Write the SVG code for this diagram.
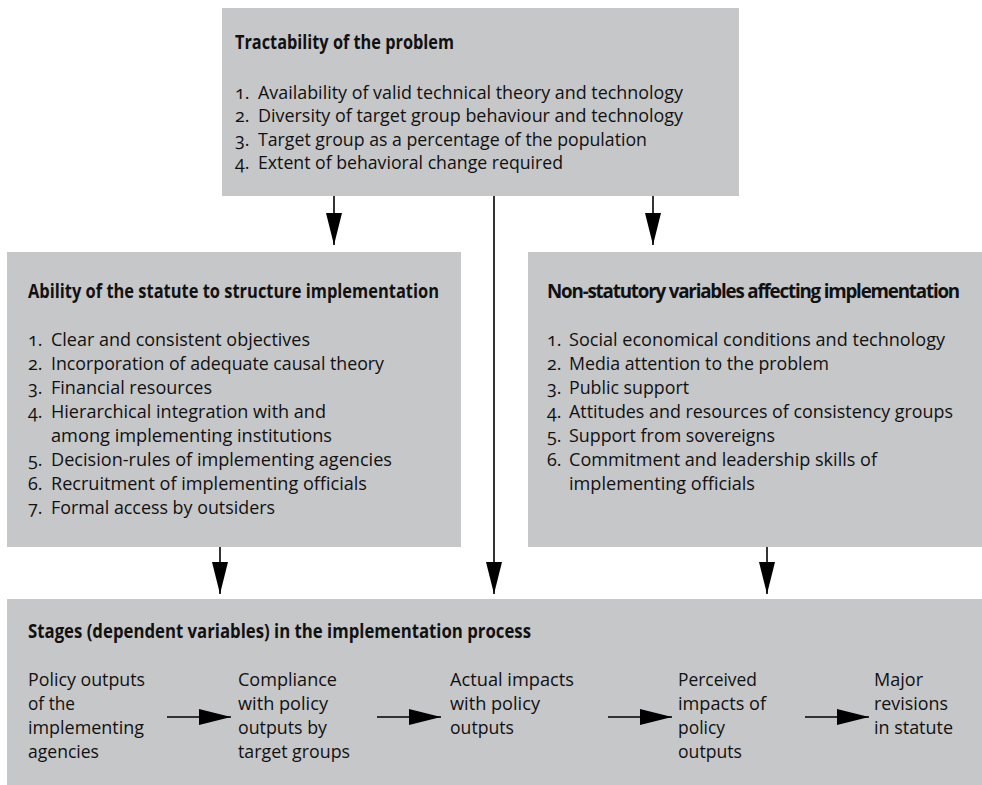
<svg xmlns="http://www.w3.org/2000/svg" width="982" height="785" viewBox="0 0 982 785">
  <style>
    .box { fill: #c6c7c9; }
    text { font-family: "Open Sans", "Noto Sans", "DejaVu Sans", sans-serif; font-size: 18px; fill: #111; font-variant-numeric: oldstyle-nums; }
    .title { font-weight: bold; font-size: 19px; }
    .tight { letter-spacing: -1.2px; }
    .conn { stroke: #000; stroke-width: 1.6; fill: none; }
  </style>
  <defs>
    <marker id="arrow" markerUnits="userSpaceOnUse" markerWidth="32" markerHeight="16" refX="32" refY="8" orient="auto">
      <path d="M0,0 L32,8 L0,16 Z" fill="#000"/>
    </marker>
  </defs>

  <!-- Tractability of the problem -->
  <g id="tractability">
    <rect class="box" x="222" y="8" width="517" height="188"/>
    <text class="title" x="235" y="49" textLength="219" lengthAdjust="spacingAndGlyphs">Tractability of the problem</text>
    <text x="235" y="98.5">1.</text>
    <text x="258" y="98.5" textLength="425" lengthAdjust="spacingAndGlyphs">Availability of valid technical theory and technology</text>
    <text x="235" y="122">2.</text>
    <text x="258" y="122" textLength="425" lengthAdjust="spacingAndGlyphs">Diversity of target group behaviour and technology</text>
    <text x="235" y="145.5">3.</text>
    <text x="258" y="145.5" textLength="389" lengthAdjust="spacingAndGlyphs">Target group as a percentage of the population</text>
    <text x="235" y="169">4.</text>
    <text x="258" y="169" textLength="305" lengthAdjust="spacingAndGlyphs">Extent of behavioral change required</text>
  </g>

  <!-- Ability of the statute to structure implementation -->
  <g id="statute">
    <rect class="box" x="7" y="252" width="454" height="295"/>
    <text class="title" x="28" y="298" textLength="411" lengthAdjust="spacingAndGlyphs">Ability of the statute to structure implementation</text>
    <text x="28" y="346">1.</text>
    <text x="51" y="346" textLength="259" lengthAdjust="spacingAndGlyphs">Clear and consistent objectives</text>
    <text x="28" y="370">2.</text>
    <text x="51" y="370" textLength="333" lengthAdjust="spacingAndGlyphs">Incorporation of adequate causal theory</text>
    <text x="28" y="394">3.</text>
    <text x="51" y="394" textLength="161" lengthAdjust="spacingAndGlyphs">Financial resources</text>
    <text x="28" y="418">4.</text>
    <text x="51" y="418" textLength="275" lengthAdjust="spacingAndGlyphs">Hierarchical integration with and</text>
    <text x="51" y="441.5" textLength="281" lengthAdjust="spacingAndGlyphs">among implementing institutions</text>
    <text x="28" y="465.5">5.</text>
    <text x="51" y="465.5" textLength="341" lengthAdjust="spacingAndGlyphs">Decision-rules of implementing agencies</text>
    <text x="28" y="489.5">6.</text>
    <text x="51" y="489.5" textLength="316" lengthAdjust="spacingAndGlyphs">Recruitment of implementing officials</text>
    <text x="28" y="513.5">7.</text>
    <text x="51" y="513.5" textLength="224" lengthAdjust="spacingAndGlyphs">Formal access by outsiders</text>
  </g>

  <!-- Non-statutory variables affecting implementation -->
  <g id="non-statutory">
    <rect class="box" x="528" y="252" width="454" height="295"/>
    <text class="title tight" x="547" y="298" textLength="412" lengthAdjust="spacingAndGlyphs">Non-statutory variables affecting implementation</text>
    <text x="547" y="346">1.</text>
    <text x="569" y="346" textLength="376" lengthAdjust="spacingAndGlyphs">Social economical conditions and technology</text>
    <text x="547" y="370">2.</text>
    <text x="569" y="370" textLength="260" lengthAdjust="spacingAndGlyphs">Media attention to the problem</text>
    <text x="547" y="394">3.</text>
    <text x="569" y="394" textLength="120" lengthAdjust="spacingAndGlyphs">Public support</text>
    <text x="547" y="418">4.</text>
    <text x="569" y="418" textLength="384" lengthAdjust="spacingAndGlyphs">Attitudes and resources of consistency groups</text>
    <text x="547" y="441.5">5.</text>
    <text x="569" y="441.5" textLength="206" lengthAdjust="spacingAndGlyphs">Support from sovereigns</text>
    <text x="547" y="465.5">6.</text>
    <text x="569" y="465.5" textLength="308" lengthAdjust="spacingAndGlyphs">Commitment and leadership skills of</text>
    <text x="569" y="489.5" textLength="186" lengthAdjust="spacingAndGlyphs">implementing officials</text>
  </g>

  <!-- Stages (dependent variables) in the implementation process -->
  <g id="stages">
    <rect class="box" x="7" y="599" width="975" height="186"/>
    <text class="title" x="28" y="638" textLength="503" lengthAdjust="spacingAndGlyphs">Stages (dependent variables) in the implementation process</text>
    <g id="stage-outputs">
      <text x="28" y="686" textLength="117" lengthAdjust="spacingAndGlyphs">Policy outputs</text>
      <text x="28" y="710" textLength="47" lengthAdjust="spacingAndGlyphs">of the</text>
      <text x="28" y="734" textLength="116" lengthAdjust="spacingAndGlyphs">implementing</text>
      <text x="28" y="758" textLength="71" lengthAdjust="spacingAndGlyphs">agencies</text>
    </g>
    <g id="stage-compliance">
      <text x="238" y="686" textLength="99" lengthAdjust="spacingAndGlyphs">Compliance</text>
      <text x="238" y="710" textLength="90" lengthAdjust="spacingAndGlyphs">with policy</text>
      <text x="238" y="734" textLength="89" lengthAdjust="spacingAndGlyphs">outputs by</text>
      <text x="238" y="758" textLength="112" lengthAdjust="spacingAndGlyphs">target groups</text>
    </g>
    <g id="stage-actual">
      <text x="450" y="686" textLength="124" lengthAdjust="spacingAndGlyphs">Actual impacts</text>
      <text x="450" y="710" textLength="90" lengthAdjust="spacingAndGlyphs">with policy</text>
      <text x="450" y="734" textLength="64" lengthAdjust="spacingAndGlyphs">outputs</text>
    </g>
    <g id="stage-perceived">
      <text x="678" y="686" textLength="79" lengthAdjust="spacingAndGlyphs">Perceived</text>
      <text x="678" y="710" textLength="88" lengthAdjust="spacingAndGlyphs">impacts of</text>
      <text x="678" y="734" textLength="47" lengthAdjust="spacingAndGlyphs">policy</text>
      <text x="678" y="758" textLength="64" lengthAdjust="spacingAndGlyphs">outputs</text>
    </g>
    <g id="stage-revisions">
      <text x="874" y="686" textLength="49" lengthAdjust="spacingAndGlyphs">Major</text>
      <text x="874" y="710" textLength="74" lengthAdjust="spacingAndGlyphs">revisions</text>
      <text x="874" y="734" textLength="79" lengthAdjust="spacingAndGlyphs">in statute</text>
    </g>
  </g>

  <!-- Connectors -->
  <g id="connectors" class="conn">
    <line class="conn" x1="334" y1="196" x2="334" y2="245" marker-end="url(#arrow)"/>
    <line class="conn" x1="653" y1="196" x2="653" y2="245" marker-end="url(#arrow)"/>
    <line class="conn" x1="494" y1="196" x2="494" y2="594" marker-end="url(#arrow)"/>
    <line class="conn" x1="220" y1="547" x2="220" y2="594" marker-end="url(#arrow)"/>
    <line class="conn" x1="767" y1="547" x2="767" y2="594" marker-end="url(#arrow)"/>
    <line class="conn" x1="167" y1="717" x2="231" y2="717" marker-end="url(#arrow)"/>
    <line class="conn" x1="377" y1="717" x2="441" y2="717" marker-end="url(#arrow)"/>
    <line class="conn" x1="608" y1="717" x2="672" y2="717" marker-end="url(#arrow)"/>
    <line class="conn" x1="805" y1="717" x2="869" y2="717" marker-end="url(#arrow)"/>
  </g>
</svg>
